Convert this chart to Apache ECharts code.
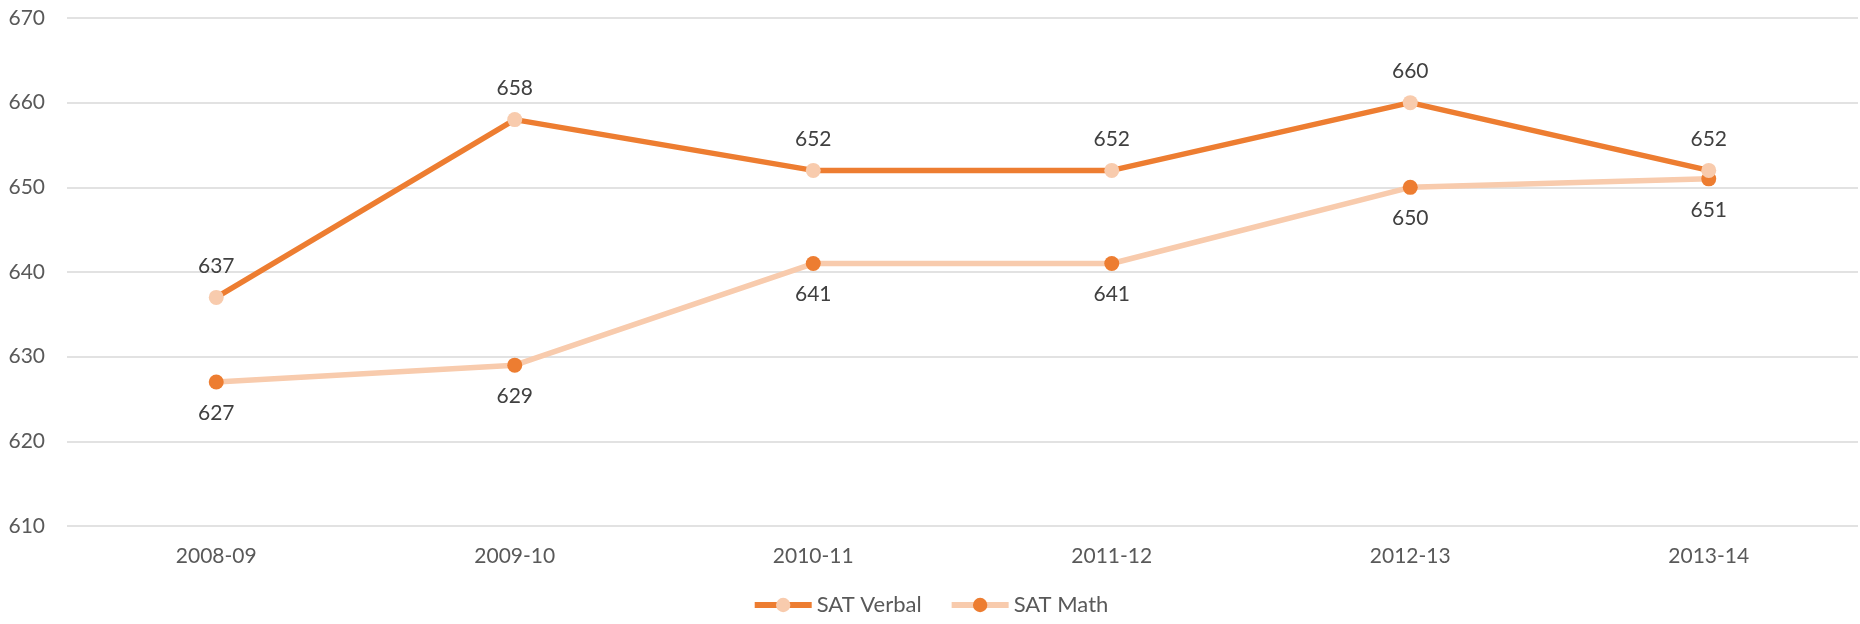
<!DOCTYPE html>
<html>
<head>
<meta charset="utf-8">
<script src="https://cdn.jsdelivr.net/npm/echarts@6/dist/echarts.min.js"></script>
<style>
html,body{margin:0;padding:0;background:#fff;}
#container{width:1860px;height:624px;}
</style>
</head>
<body>
<div id="container"></div>
<script>
var years = ['2008-09', '2009-10', '2010-11', '2011-12', '2012-13', '2013-14'];
var verbalScores = [637, 658, 652, 652, 660, 652];
var mathScores = [627, 629, 641, 641, 650, 651];
var yTicks = {min: 610, max: 670, step: 10};

var dark = '#ED7D31';
var light = '#F8CBAD';
var fontName = 'Lato';

var myChart = echarts.init(document.getElementById('container'));

var option = {
    animation: false,
    textStyle: {fontFamily: fontName},
    grid: {
        left: 67,
        right: 2,
        top: 18,
        bottom: 98
    },
    legend: {
        bottom: 3,
        left: 'center',
        itemWidth: 57,
        itemHeight: 18,
        itemGap: 27,
        lineStyle: {width: 6},
        textStyle: {fontFamily: fontName, fontSize: 22, color: '#595959'},
        data: ['SAT Verbal', 'SAT Math']
    },
    xAxis: {
        type: 'category',
        boundaryGap: true,
        data: years,
        axisLine: {show: false},
        axisTick: {show: false},
        axisLabel: {fontSize: 21, color: '#595959', margin: 20, fontFamily: fontName}
    },
    yAxis: {
        type: 'value',
        min: yTicks.min,
        max: yTicks.max,
        interval: yTicks.step,
        axisLine: {show: false},
        axisTick: {show: false},
        axisLabel: {fontSize: 21, color: '#595959', margin: 22, fontFamily: fontName},
        splitLine: {lineStyle: {color: '#D9D9D9', width: 1.5}}
    },
    series: [
        {
            name: 'SAT Verbal',
            type: 'line',
            data: verbalScores,
            symbol: 'circle',
            symbolSize: 15,
            z: 3,
            lineStyle: {color: dark, width: 5.5},
            itemStyle: {color: light},
            label: {
                show: true,
                position: 'top',
                distance: 13,
                fontSize: 21,
                color: '#404040',
                fontFamily: fontName
            }
        },
        {
            name: 'SAT Math',
            type: 'line',
            data: mathScores,
            symbol: 'circle',
            symbolSize: 15,
            z: 2,
            lineStyle: {color: light, width: 5.5},
            itemStyle: {color: dark},
            label: {
                show: true,
                position: 'bottom',
                distance: 13,
                fontSize: 21,
                color: '#404040',
                fontFamily: fontName
            }
        }
    ]
};

myChart.setOption(option);
</script>
</body>
</html>
